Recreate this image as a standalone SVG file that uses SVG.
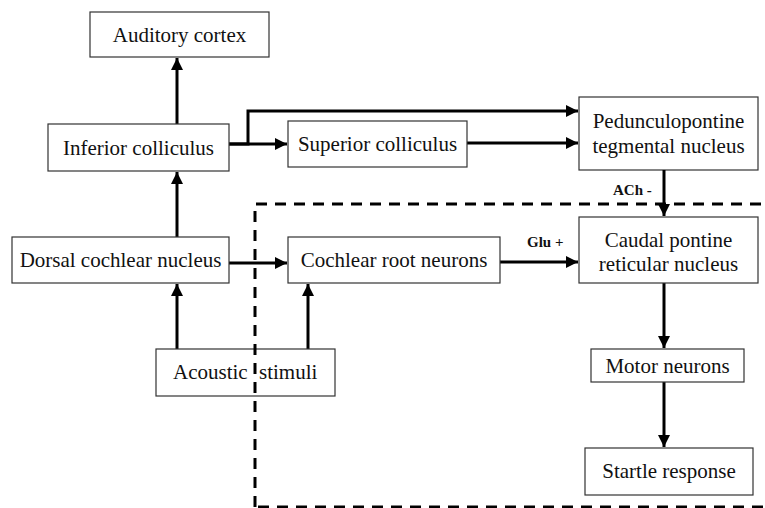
<svg xmlns="http://www.w3.org/2000/svg" width="765" height="508" viewBox="0 0 765 508">
<style>
.box{fill:#fff;stroke:#333;stroke-width:1.2}
.t{font-family:"Liberation Serif","Times New Roman",serif;font-size:21px;fill:#111;text-anchor:middle}
.lb{font-family:"Liberation Serif","Times New Roman",serif;font-size:15px;font-weight:bold;fill:#111}
.c{stroke:#000;stroke-width:3;fill:none}
.d{stroke:#000;stroke-width:3;fill:none;stroke-dasharray:11 8}
</style>
<defs>
<marker id="ah" viewBox="0 0 10 10" refX="10" refY="5" markerWidth="4" markerHeight="4" markerUnits="strokeWidth" orient="auto">
<path d="M0,0 L10,5 L0,10 Z" fill="#000"/>
</marker>
</defs>
<rect width="765" height="508" fill="#fff"/>
<g id="connectors">
<path class="c" d="M177,124 L177,58" marker-end="url(#ah)"/>
<path class="c" d="M177,237 L177,172" marker-end="url(#ah)"/>
<path class="c" d="M229,144 L287,144" marker-end="url(#ah)"/>
<path class="c" d="M229,144 L248,144 L248,111 L578,111" marker-end="url(#ah)"/>
<path class="c" d="M467,143 L578,143" marker-end="url(#ah)"/>
<path class="c" d="M229,263 L287,263" marker-end="url(#ah)"/>
<path class="c" d="M500,262 L578,262" marker-end="url(#ah)"/>
<path class="c" d="M177,349 L177,284" marker-end="url(#ah)"/>
<path class="c" d="M308,349 L308,284" marker-end="url(#ah)"/>
<path class="c" d="M664,283 L664,348" marker-end="url(#ah)"/>
<path class="c" d="M664,382 L664,447" marker-end="url(#ah)"/>
<text class="lb" x="613" y="195">ACh -</text>
<text class="lb" x="527" y="247">Glu +</text>
</g>
<g id="auditory-cortex"><rect class="box" x="90" y="12" width="179" height="45"/><text class="t" x="179.5" y="42">Auditory cortex</text></g>
<g id="inferior-colliculus"><rect class="box" x="48" y="124" width="181" height="47"/><text class="t" x="138.5" y="155">Inferior colliculus</text></g>
<g id="superior-colliculus"><rect class="box" x="288" y="121" width="179" height="46"/><text class="t" x="377.5" y="151">Superior colliculus</text></g>
<g id="ppt"><rect class="box" x="579" y="97" width="179" height="73"/><text class="t" x="668.5" y="128">Pedunculopontine</text><text class="t" x="668.5" y="153">tegmental nucleus</text></g>
<g id="dorsal-cochlear-nucleus"><rect class="box" x="12" y="237" width="217" height="46"/><text class="t" x="120.5" y="267">Dorsal cochlear nucleus</text></g>
<g id="cochlear-root-neurons"><rect class="box" x="288" y="237" width="212" height="46"/><text class="t" x="394" y="267">Cochlear root neurons</text></g>
<g id="cprn"><rect class="box" x="579" y="217" width="179" height="66"/><text class="t" x="668.5" y="247">Caudal pontine</text><text class="t" x="668.5" y="271">reticular nucleus</text></g>
<g id="acoustic-stimuli"><rect class="box" x="156" y="349" width="179" height="47"/><text class="t" y="379" style="text-anchor:start"><tspan x="173">Acoustic</tspan><tspan x="259">stimuli</tspan></text></g>
<g id="motor-neurons"><rect class="box" x="591" y="349" width="153" height="33"/><text class="t" x="667.5" y="373">Motor neurons</text></g>
<g id="startle-response"><rect class="box" x="585" y="448" width="168" height="47"/><text class="t" x="669" y="478">Startle response</text></g>
<g id="region">
<path class="d" d="M255,507 L255,204 L765,204"/>
<path class="d" d="M258,507 L765,507"/>
</g>
<path class="c" d="M664,170 L664,216" marker-end="url(#ah)"/>
</svg>
